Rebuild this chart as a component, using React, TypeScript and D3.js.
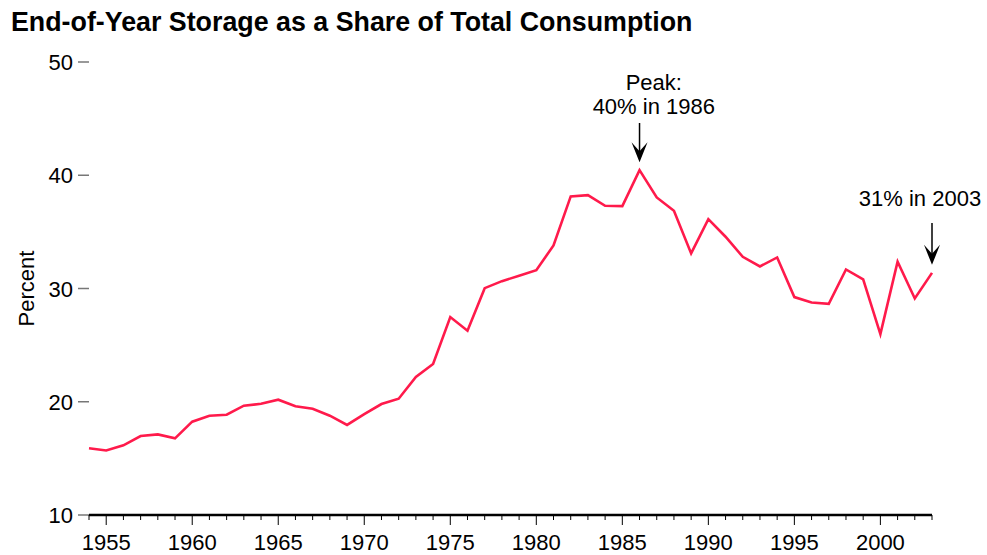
import React from "react";
import * as d3 from "d3";

const years: number[] = [
  1954, 1955, 1956, 1957, 1958, 1959, 1960, 1961, 1962, 1963, 1964, 1965, 1966, 1967, 1968, 1969,
  1970, 1971, 1972, 1973, 1974, 1975, 1976, 1977, 1978, 1979, 1980, 1981, 1982, 1983, 1984, 1985,
  1986, 1987, 1988, 1989, 1990, 1991, 1992, 1993, 1994, 1995, 1996, 1997, 1998, 1999, 2000, 2001,
  2002, 2003,
];
const storageShare: number[] = [
  15.9, 15.7, 16.15, 16.97, 17.12, 16.77, 18.24, 18.77, 18.85, 19.65, 19.82, 20.18, 19.6, 19.38, 18.77, 17.95,
  18.9, 19.8, 20.27, 22.18, 23.33, 27.48, 26.27, 30.03, 30.65, 31.12, 31.62, 33.8, 38.13, 38.24, 37.3, 37.27,
  40.45, 38.04, 36.86, 33.1, 36.12, 34.57, 32.8, 31.95, 32.74, 29.24, 28.77, 28.65, 31.68, 30.8, 25.97, 32.36,
  29.12, 31.38,
];
const yTicks: number[] = [10, 20, 30, 40, 50];
const xLabelTicks: number[] = [1955, 1960, 1965, 1970, 1975, 1980, 1985, 1990, 1995, 2000];
const annotations = [
  { year: 1986, lines: ["Peak:", "40% in 1986"], textX: 653.8, baseline: 90, arrowTop: 123 },
  { year: 2003, lines: ["31% in 2003"], textX: 920, baseline: 206, arrowTop: 223 },
];

const W = 987;
const H = 555;
const FONT = "'Liberation Sans', Arial, Helvetica, sans-serif";

export default function App() {
  const x = d3.scaleLinear().domain([1954, 2003]).range([89, 932]);
  const y = d3.scaleLinear().domain([10, 50]).range([515, 62]);
  const data = years.map((yr, i) => ({ yr, v: storageShare[i] }));
  const line = d3
    .line<{ yr: number; v: number }>()
    .x((d) => x(d.yr))
    .y((d) => y(d.v));
  const allYears = d3.range(1954, 2004);

  const arrow = (ax: number, top: number, tip: number, key: string) => (
    <g key={key}>
      <line x1={ax} x2={ax} y1={top} y2={tip - 8} stroke="#000" strokeWidth={1.5} />
      <path
        d={`M${ax},${tip} L${ax - 8},${tip - 20} L${ax},${tip - 11} L${ax + 8},${tip - 20} Z`}
        fill="#000"
      />
    </g>
  );

  return (
    <svg
      width={W}
      height={H}
      style={{ position: "absolute", left: 0, top: 0, background: "#fff" }}
      fontFamily={FONT}
    >
      <text x={11} y={31} fontSize={26.8} fontWeight="bold" fill="#000">
        End-of-Year Storage as a Share of Total Consumption
      </text>

      {/* y axis */}
      {yTicks.map((t) => (
        <g key={"y" + t}>
          <line x1={78} x2={89} y1={y(t)} y2={y(t)} stroke="#777" strokeWidth={1.5} />
          <text x={73} y={y(t) + 8} textAnchor="end" fontSize={22} fill="#000">
            {t}
          </text>
        </g>
      ))}
      <text
        transform={`translate(34,${y(30)}) rotate(-90)`}
        textAnchor="middle"
        fontSize={22}
        fill="#000"
      >
        Percent
      </text>

      {/* x axis */}
      <line x1={x(1954)} x2={x(2003)} y1={515} y2={515} stroke="#000" strokeWidth={2.5} />
      {allYears.map((yr) => (
        <line
          key={"xt" + yr}
          x1={x(yr)}
          x2={x(yr)}
          y1={515}
          y2={yr % 5 === 0 ? 525 : 520}
          stroke="#000"
          strokeWidth={1}
        />
      ))}
      {xLabelTicks.map((t) => (
        <text key={"xl" + t} x={x(t)} y={550} textAnchor="middle" fontSize={22} fill="#000">
          {t}
        </text>
      ))}

      {/* data line */}
      <path d={line(data) || ""} fill="none" stroke="#ff1a4b" strokeWidth={2.6} strokeLinejoin="miter" />

      {/* annotations */}
      {annotations.map((a, i) => {
        const v = storageShare[years.indexOf(a.year)];
        const ax = x(a.year);
        const tip = y(v) - 8;
        return (
          <g key={"a" + i}>
            {a.lines.map((l, j) => (
              <text
                key={j}
                x={a.textX}
                y={a.baseline + j * 24}
                textAnchor="middle"
                fontSize={22}
                fill="#000"
              >
                {l}
              </text>
            ))}
            {arrow(ax, a.arrowTop, tip, "ar" + i)}
          </g>
        );
      })}
    </svg>
  );
}
